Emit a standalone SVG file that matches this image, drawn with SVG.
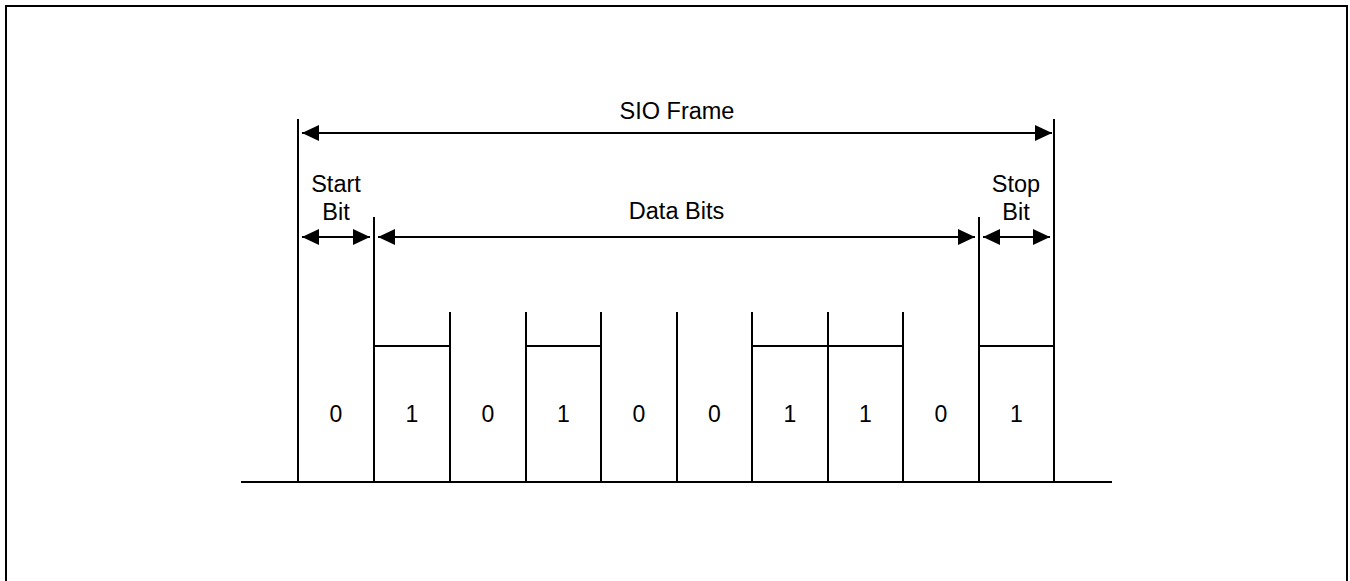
<svg xmlns="http://www.w3.org/2000/svg" width="1350" height="581" viewBox="0 0 1350 581">
<style>
.ln{stroke:#000;stroke-width:2;fill:none}
.t{font-family:"Liberation Sans",Arial,sans-serif;font-size:23.5px;fill:#000;text-anchor:middle}
.d{font-family:"Liberation Sans",Arial,sans-serif;font-size:23px;fill:#000;text-anchor:middle}
</style>
<defs>
<marker id="ah" markerUnits="userSpaceOnUse" markerWidth="18" markerHeight="16" refX="17" refY="8" orient="auto-start-reverse">
<path d="M0,0 L17,8 L0,16 Z" fill="#000"/>
</marker>
</defs>
<rect x="6" y="6" width="1341" height="620" class="ln" stroke-width="2.5"/>
<g id="signal">
<line class="ln" x1="241" y1="482" x2="1112" y2="482"/>
<line class="ln" x1="298" y1="119" x2="298" y2="482"/>
<line class="ln" x1="374" y1="217" x2="374" y2="482"/>
<line class="ln" x1="450" y1="312" x2="450" y2="482"/>
<line class="ln" x1="526" y1="312" x2="526" y2="482"/>
<line class="ln" x1="601" y1="312" x2="601" y2="482"/>
<line class="ln" x1="677" y1="312" x2="677" y2="482"/>
<line class="ln" x1="752" y1="312" x2="752" y2="482"/>
<line class="ln" x1="828" y1="312" x2="828" y2="482"/>
<line class="ln" x1="903" y1="312" x2="903" y2="482"/>
<line class="ln" x1="979" y1="217" x2="979" y2="482"/>
<line class="ln" x1="1054" y1="119" x2="1054" y2="482"/>
<line class="ln" x1="374" y1="346" x2="450" y2="346"/>
<line class="ln" x1="526" y1="346" x2="601" y2="346"/>
<line class="ln" x1="752" y1="346" x2="903" y2="346"/>
<line class="ln" x1="979" y1="346" x2="1054" y2="346"/>
</g>
<g id="bits">
<text class="d" x="336" y="422">0</text>
<text class="d" x="412" y="422">1</text>
<text class="d" x="488" y="422">0</text>
<text class="d" x="563.5" y="422">1</text>
<text class="d" x="639" y="422">0</text>
<text class="d" x="714.5" y="422">0</text>
<text class="d" x="790" y="422">1</text>
<text class="d" x="865.5" y="422">1</text>
<text class="d" x="941" y="422">0</text>
<text class="d" x="1016.5" y="422">1</text>
</g>
<g id="connectors">
<line class="ln" x1="302" y1="133" x2="1052" y2="133" marker-start="url(#ah)" marker-end="url(#ah)"/>
<line class="ln" x1="302" y1="237" x2="370" y2="237" marker-start="url(#ah)" marker-end="url(#ah)"/>
<line class="ln" x1="378" y1="237" x2="975" y2="237" marker-start="url(#ah)" marker-end="url(#ah)"/>
<line class="ln" x1="983" y1="237" x2="1050" y2="237" marker-start="url(#ah)" marker-end="url(#ah)"/>
</g>
<g id="labels">
<text class="t" x="677" y="119">SIO Frame</text>
<text class="t" x="676.5" y="219">Data Bits</text>
<text class="t" x="336" y="192">Start</text>
<text class="t" x="336" y="220">Bit</text>
<text class="t" x="1016" y="192">Stop</text>
<text class="t" x="1016" y="220">Bit</text>
</g>
</svg>
